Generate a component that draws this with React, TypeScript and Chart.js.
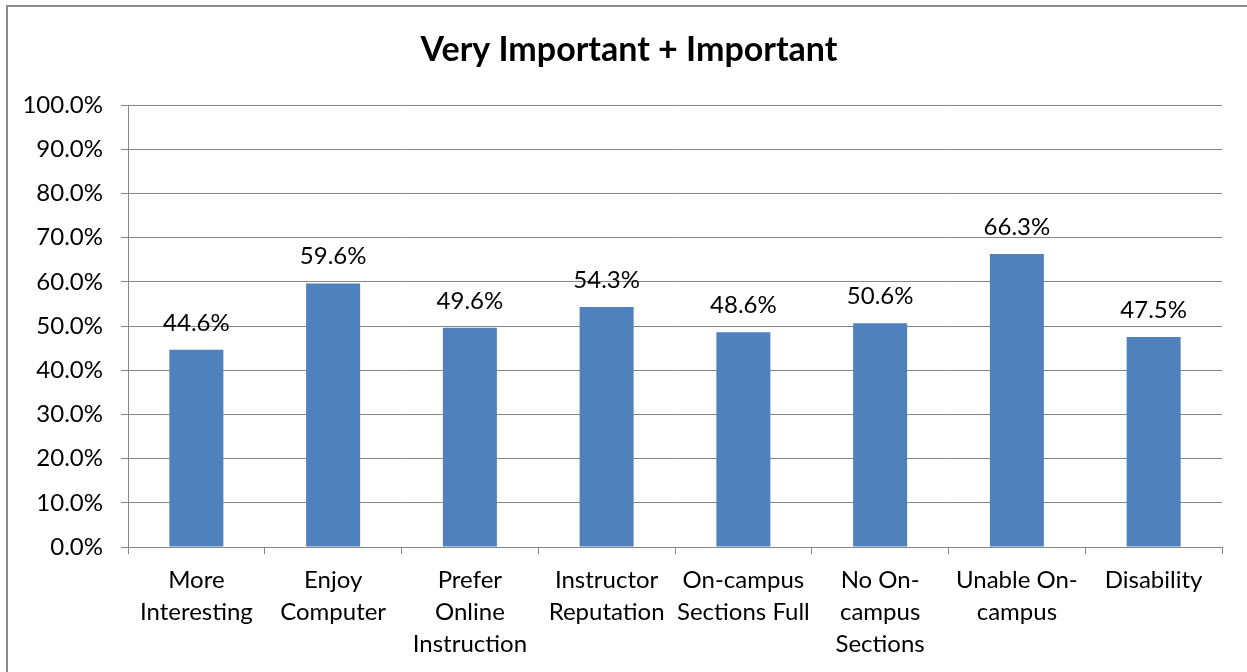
import React, { useEffect, useRef } from 'react';
import { Chart, registerables } from 'chart.js';
Chart.register(...registerables);

const TITLE = 'Very Important + Important';
const categories: string[][] = [
  ['More', 'Interesting'],
  ['Enjoy', 'Computer'],
  ['Prefer', 'Online', 'Instruction'],
  ['Instructor', 'Reputation'],
  ['On-campus', 'Sections Full'],
  ['No On-', 'campus', 'Sections'],
  ['Unable On-', 'campus'],
  ['Disability'],
];
const values: number[] = [44.6, 59.6, 49.6, 54.3, 48.6, 50.6, 66.3, 47.5];
const yMin = 0;
const yMax = 100;
const yStep = 10;

const FONT = 'Lato, "Liberation Sans", sans-serif';
const GRID = '#868686';
const BAR = '#4F81BD';

export default function App() {
  const ref = useRef<HTMLCanvasElement | null>(null);
  useEffect(() => {
    document.body.style.margin = '0';
    document.body.style.overflow = 'hidden';
    const labelPlugin = {
      id: 'valueLabels',
      afterDatasetsDraw(chart: any) {
        const ctx = chart.ctx;
        const meta = chart.getDatasetMeta(0);
        ctx.save();
        ctx.fillStyle = '#000';
        ctx.font = `24px ${FONT}`;
        ctx.textAlign = 'center';
        ctx.textBaseline = 'middle';
        meta.data.forEach((el: any, i: number) => {
          ctx.fillText(values[i].toFixed(1) + '%', el.x, el.y - 27);
        });
        ctx.restore();
      },
      afterDraw(chart: any) {
        const ctx = chart.ctx;
        ctx.save();
        ctx.fillStyle = '#000';
        ctx.font = `bold 34px ${FONT}`;
        ctx.textAlign = 'center';
        ctx.textBaseline = 'middle';
        ctx.fillText(TITLE, 629, 50);
        ctx.restore();
      },
    };
    const chart = new Chart(ref.current!, {
      type: 'bar',
      data: {
        labels: categories,
        datasets: [
          {
            data: values,
            backgroundColor: BAR,
            barPercentage: 0.395,
            categoryPercentage: 1,
          },
        ],
      },
      options: {
        animation: false,
        responsive: false,
        layout: { padding: { top: 105, right: 25, left: 0, bottom: 0 } },
        plugins: { legend: { display: false }, tooltip: { enabled: false }, title: { display: false } },
        scales: {
          x: {
            grid: { drawOnChartArea: false, drawTicks: true, tickLength: 7, color: GRID, offset: true },
            border: { display: true, color: GRID, width: 1 },
            ticks: { color: '#000', font: { family: FONT, size: 24, lineHeight: 1.33 }, padding: 10, maxRotation: 0, autoSkip: false },
            afterFit(scale: any) { scale.height = 125; },
          },
          y: {
            min: yMin,
            max: yMax,
            grid: { color: GRID, tickLength: 7, lineWidth: 1 },
            border: { display: true, color: GRID, width: 1 },
            ticks: {
              stepSize: yStep,
              color: '#000',
              font: { family: FONT, size: 24 },
              padding: 18,
              callback: (v: any) => Number(v).toFixed(1) + '%',
            },
            afterFit(scale: any) { scale.width = 128; },
          },
        },
      },
      plugins: [labelPlugin],
    });
    return () => chart.destroy();
  }, []);
  return (
    <div style={{ position: 'fixed', left: 0, top: 0, width: 1247, height: 672, overflow: 'hidden', background: '#fff' }}>
      <div style={{ position: 'absolute', left: 6, top: 5, width: 1270, height: 720, border: '2px solid #8c8c8c' }} />
      <canvas ref={ref} width={1247} height={672} style={{ position: 'absolute', left: 0, top: 0 }} />
    </div>
  );
}
